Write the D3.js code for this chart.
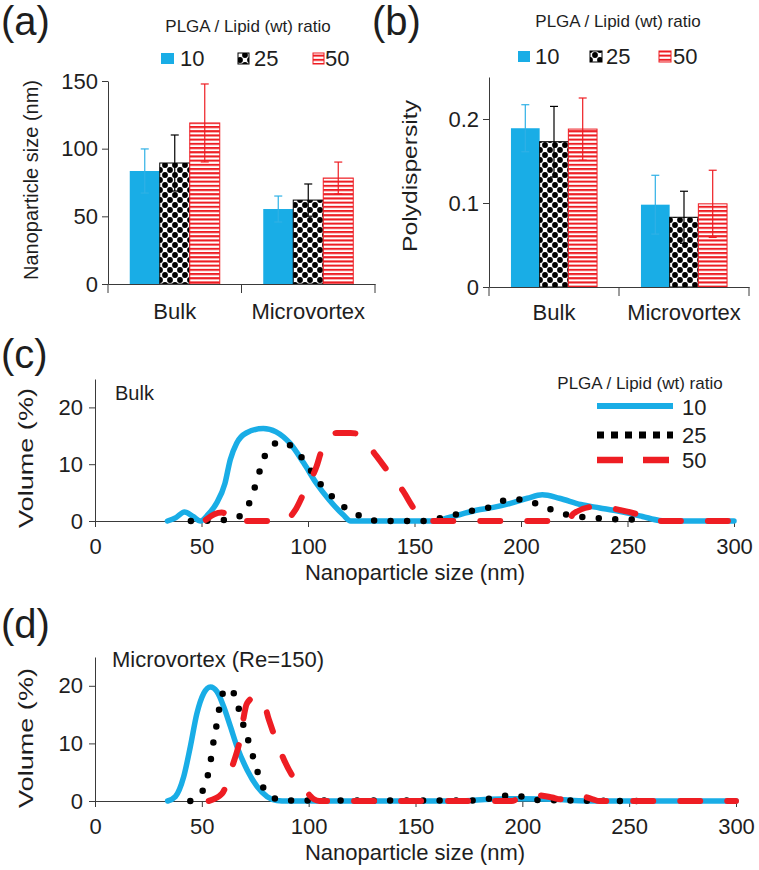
<!DOCTYPE html>
<html><head><meta charset="utf-8">
<script src="https://cdn.jsdelivr.net/npm/d3@7"></script>
<style>
body{margin:0;background:#fff;}
svg{display:block;font-family:"Liberation Sans",Arial,Helvetica,sans-serif;}
</style></head><body>
<svg id="chart" width="759" height="870"></svg>
<script>
// ---------- data ----------
const categories = ["Bulk", "Microvortex"];
const ratios = ["10", "25", "50"];
const legendTitle = "PLGA / Lipid (wt) ratio";

const sizeBulk = [83.5, 89.4, 119];
const sizeMicro = [55.4, 62, 78.3];
const sizeErrBulk = [16.3, 20.7, 28.8];
const sizeErrMicro = [9.6, 11.9, 11.8];
const sizeTicks = [0, 50, 100, 150];

const pdiBulk = [0.189, 0.173, 0.188];
const pdiMicro = [0.098, 0.083, 0.099];
const pdiErrBulk = [0.028, 0.042, 0.037];
const pdiErrMicro = [0.035, 0.031, 0.040];
const pdiTicks = [0, 0.1, 0.2];

const distTicksX = [0, 50, 100, 150, 200, 250, 300];
const distTicksY = [0, 10, 20];

// Bulk size distributions [size nm, volume %]
const bulk10 = [[34,0],[38,0.6],[42,1.6],[46,0.8],[49.5,0],[53,1.1],[57,3.1],[61,6.6],[63.5,10.8],[66.5,13.7],[71,15.5],[79,16.3],[85,15.7],[91.5,13.7],[98,10.2],[104,6.6],[110,3.7],[116.5,1.1],[120,0],[160,0],[165,0.5],[171,1.1],[179,1.9],[187,2.4],[195,3.1],[203,4.0],[210,4.6],[218,4.0],[228,2.9],[237,2.3],[246,1.7],[257,0.8],[265,0.1],[270,0],[300,0]];
const bulk25 = [[45,0],[62,0.2],[69,1.1],[73,3.7],[75.6,6.6],[78,9.6],[81,12.4],[87.6,14],[94,12.5],[99.4,10],[104,7.4],[109,5.2],[115,3],[122,1.4],[129,0.2],[135,0],[154,0],[162,0.5],[170,1.2],[178,1.9],[186,2.5],[194,3.8],[202,3.8],[209,2.7],[217.5,1.6],[225,0.8],[233.5,0.6],[241.6,0.3],[250,0.3],[258,0.1]];
const bulk50 = [[52,0.2],[56,1.2],[59.5,1.5],[62.5,0.8],[64,0],[88,0],[94,1.9],[98,4.9],[104,9.6],[106.5,12.5],[113.5,15.5],[120,15.5],[123.5,15.3],[132,11.5],[137,9],[144.6,5.3],[149.5,2.3],[154,0.3],[156,0],[222,0],[224.6,1.3],[234,2.5],[239,2.4],[245.7,2.0],[255,1.1],[260,0.2],[263,0],[300,0]];

// Microvortex (Re=150) size distributions
const micro10 = [[34,0],[37.6,0.75],[41.5,4.2],[44.6,9.4],[47.7,15.2],[50.9,18.7],[54,19.8],[57.1,19],[60.2,16.4],[63.4,12.9],[66.5,9.4],[71.2,5.4],[75.9,2.5],[80.6,0.75],[85,0.1],[90,0],[170,0],[185,0.3],[200,0.4],[215,0.3],[230,0],[300,0]];
const micro25 = [[44.6,0],[50.1,1.6],[52.7,4.3],[54.3,7.4],[55.5,10.4],[57.1,13.6],[58.4,16.6],[61.5,19.6],[65.7,18.3],[67.8,15.2],[70.4,12.1],[72.8,9.2],[75.1,6.3],[77.5,3.4],[82.2,0.75],[89,0.1],[180,0.1],[188.6,0.8],[196.7,1.0],[205,0.2],[255,0]];
const micro50 = [[53.2,0],[59.5,1.3],[64.2,6],[67.3,9.7],[71.2,17],[74.3,17.9],[78.3,17.6],[81.4,14.1],[85.3,10],[88.4,7.2],[94.7,3.1],[99.4,1.4],[102.5,0.3],[105,0],[195,0],[200,0.8],[207,1.0],[214,0.6],[218,0.3],[222,0.9],[228,0.8],[233,0.3],[236,0],[300,0]];

// ---------- styles ----------
const BLUE = "#19ADE6", RED = "#EE1D23", INK = "#1e1e1e", AXIS = "#3a3a3a";
const barFill = [BLUE, "url(#dots)", "url(#stripes)"];
const barStroke = ["none", "#000", RED];
const errColor = ["#2FB1E6", "#000", RED];

const svg = d3.select("#chart");
svg.append("rect").attr("width", 759).attr("height", 870).attr("fill", "#fff");

const defs = svg.append("defs");
const pd = defs.append("pattern").attr("id", "dots").attr("width", 10).attr("height", 10)
  .attr("patternUnits", "userSpaceOnUse");
pd.append("rect").attr("width", 10).attr("height", 10).attr("fill", "#fff");
[[0,0],[10,0],[0,10],[10,10],[5,5]].forEach(p =>
  pd.append("circle").attr("cx", p[0]).attr("cy", p[1]).attr("r", 2.9).attr("fill", "#000"));
const ps = defs.append("pattern").attr("id", "stripes").attr("width", 4).attr("height", 4.2)
  .attr("patternUnits", "userSpaceOnUse");
ps.append("rect").attr("width", 4).attr("height", 4.2).attr("fill", "#fff");
ps.append("rect").attr("width", 4).attr("height", 2.1).attr("fill", RED);

function styleAxisText(g, size) {
  g.selectAll("text").attr("font-size", size).attr("fill", INK)
   .attr("font-family", '"Liberation Sans",Arial,sans-serif');
  g.selectAll("line,path").attr("stroke", AXIS).attr("stroke-width", 1);
}

// ---------- bar panels ----------
function barPanel(o) {
  const g = svg.append("g");
  const x0 = d3.scaleBand().domain(categories).range(o.xr).paddingInner(0).paddingOuter(0);
  const x1 = d3.scaleBand().domain(ratios).range([0, x0.bandwidth()]).paddingInner(0).paddingOuter(o.pad);
  const y = d3.scaleLinear().domain([0, o.ymax]).range(o.yr);
  const vals = [o.bulk, o.micro], errs = [o.errB, o.errM];

  categories.forEach((c, ci) => {
    ratios.forEach((r, ri) => {
      g.append("rect")
        .attr("x", x0(c) + x1(r)).attr("width", x1.bandwidth())
        .attr("y", y(vals[ci][ri])).attr("height", y(0) - y(vals[ci][ri]))
        .attr("fill", barFill[ri]).attr("stroke", barStroke[ri]).attr("stroke-width", 1);
    });
  });
  categories.forEach((c, ci) => {
    ratios.forEach((r, ri) => {
      const cx = x0(c) + x1(r) + x1.bandwidth() / 2;
      const v = vals[ci][ri], e = errs[ci][ri];
      const eg = g.append("g").attr("stroke", errColor[ri]).attr("stroke-width", 1.2);
      eg.append("line").attr("x1", cx).attr("x2", cx).attr("y1", y(v - e)).attr("y2", y(v + e));
      [v - e, v + e].forEach(t => eg.append("line").attr("x1", cx - 4).attr("x2", cx + 4)
        .attr("y1", y(t)).attr("y2", y(t)));
    });
  });

  // y axis
  const ya = g.append("g").attr("transform", `translate(${o.xr[0]},0)`)
    .call(d3.axisLeft(y).tickValues(o.ticks).tickSize(6).tickSizeOuter(0).tickPadding(4).tickFormat(d => String(d)));
  styleAxisText(ya, 22);
  // x axis
  const xa = g.append("g").attr("transform", `translate(0,${o.yr[0]})`)
    .call(d3.axisBottom(x0).tickSize(0).tickSizeOuter(0));
  styleAxisText(xa, 22);
  xa.selectAll("text").attr("y", o.labelDy).attr("dy", 0);
  const bounds = categories.map(c => x0(c)).concat([o.xr[1]]);
  xa.selectAll("line.bnd").data(bounds).enter().append("line").attr("class", "bnd")
    .attr("x1", d => d).attr("x2", d => d).attr("y1", 0).attr("y2", 9)
    .attr("stroke", AXIS).attr("stroke-width", 1);

  // y title
  const yt = g.append("text").attr("transform", `translate(${o.ytX},${o.ytY}) rotate(-90)`)
    .attr("text-anchor", "middle").attr("font-size", o.ytSize).attr("fill", INK).text(o.ytitle);
  if (o.ytLen) yt.attr("textLength", o.ytLen).attr("lengthAdjust", "spacingAndGlyphs");

  // panel label
  g.append("text").attr("x", o.lab[0]).attr("y", o.lab[1]).attr("font-size", 40).attr("fill", INK).text(o.label);

  // legend
  g.append("text").attr("x", o.legTitle[0]).attr("y", o.legTitle[1]).attr("text-anchor", "middle")
    .attr("font-size", 17).attr("fill", INK).text(legendTitle);
  ratios.forEach((r, ri) => {
    g.append("rect").attr("x", o.legSq[ri]).attr("y", o.legY - 13).attr("width", o.sqW[ri]).attr("height", 11)
      .attr("fill", barFill[ri]).attr("stroke", barStroke[ri]).attr("stroke-width", 1);
    g.append("text").attr("x", o.legTx[ri]).attr("y", o.legY).attr("font-size", 22).attr("fill", INK).text(r);
  });
}

barPanel({
  xr: [108, 375], yr: [284, 81], ymax: 150, ticks: sizeTicks, pad: 0.725,
  bulk: sizeBulk, micro: sizeMicro, errB: sizeErrBulk, errM: sizeErrMicro,
  labelDy: 35, ytitle: "Nanoparticle size (nm)", ytX: 38, ytY: 180, ytSize: 21, ytLen: 200,
  label: "(a)", lab: [1, 35],
  legTitle: [248, 32], legSq: [161, 238, 313], sqW: [13, 11, 11], legTx: [180, 254, 325], legY: 66
});
barPanel({
  xr: [489, 749], yr: [287, 77], ymax: 0.25, ticks: pdiTicks, pad: 0.765,
  bulk: pdiBulk, micro: pdiMicro, errB: pdiErrBulk, errM: pdiErrMicro,
  labelDy: 33, ytitle: "Polydispersity", ytX: 417, ytY: 176, ytSize: 21, ytLen: 152,
  label: "(b)", lab: [372, 35],
  legTitle: [618, 27], legSq: [518, 590, 659], sqW: [12, 12, 12], legTx: [535, 606, 673], legY: 64
});

// ---------- distribution panels ----------
function distPanel(o) {
  const g = svg.append("g");
  const x = d3.scaleLinear().domain([0, 300]).range(o.xr);
  const y = d3.scaleLinear().domain([0, 25]).range(o.yr);
  const xa = g.append("g").attr("transform", `translate(0,${o.yr[0]})`)
    .call(d3.axisBottom(x).tickValues(distTicksX).tickSize(6).tickSizeOuter(0).tickFormat(d => String(d)));
  styleAxisText(xa, 22);
  xa.selectAll("text").attr("y", 33).attr("dy", 0);
  const ya = g.append("g").attr("transform", `translate(${o.xr[0]},0)`)
    .call(d3.axisLeft(y).tickValues(distTicksY).tickSize(6).tickSizeOuter(0).tickPadding(6).tickFormat(d => String(d)));
  styleAxisText(ya, 22);

  const line = d3.line().x(d => x(d[0])).y(d => y(d[1])).curve(d3.curveMonotoneX);
  g.append("path").datum(o.s10).attr("d", line).attr("fill", "none").attr("stroke", BLUE)
    .attr("stroke-width", 5.5).attr("stroke-linecap", "round").attr("stroke-linejoin", "round");
  g.append("path").datum(o.s25).attr("d", line).attr("fill", "none").attr("stroke", "#000")
    .attr("stroke-width", 6.5).attr("stroke-linecap", "round").attr("stroke-dasharray", "0 16.5");
  g.append("path").datum(o.s50).attr("d", line).attr("fill", "none").attr("stroke", RED)
    .attr("stroke-width", 6).attr("stroke-linecap", "round").attr("stroke-dasharray", "20 27");

  g.append("text").attr("transform", `translate(33,${o.ytY}) rotate(-90)`).attr("text-anchor", "middle")
    .attr("font-size", 21).attr("textLength", 140).attr("lengthAdjust", "spacingAndGlyphs")
    .attr("fill", INK).text("Volume (%)");
  g.append("text").attr("x", 415).attr("y", o.yr[0] + 59).attr("text-anchor", "middle")
    .attr("font-size", 22).attr("fill", INK).text("Nanoparticle size (nm)");
  g.append("text").attr("x", o.lab[0]).attr("y", o.lab[1]).attr("font-size", 40).attr("fill", INK).text(o.label);
  g.append("text").attr("x", o.sub[0]).attr("y", o.sub[1]).attr("font-size", o.subSize).attr("fill", INK).text(o.subtitle);
  return g;
}

const gc = distPanel({ xr: [95, 734], yr: [521, 379], s10: bulk10, s25: bulk25, s50: bulk50,
  ytY: 458, label: "(c)", lab: [1, 368], subtitle: "Bulk", sub: [115, 400], subSize: 20 });
distPanel({ xr: [95, 736], yr: [801, 657], s10: micro10, s25: micro25, s50: micro50,
  ytY: 738, label: "(d)", lab: [1, 638], subtitle: "Microvortex (Re=150)", sub: [112, 667], subSize: 22 });

// legend for (c)
gc.append("text").attr("x", 640).attr("y", 389).attr("text-anchor", "middle").attr("font-size", 17)
  .attr("fill", INK).text(legendTitle);
const legStyles = [
  { stroke: BLUE, w: 6, dash: null },
  { stroke: "#000", w: 7, dash: "7 7" },
  { stroke: RED, w: 6.5, dash: "26 20" }
];
const legLineY = [406, 435, 460], legTextY = [415, 443, 468];
ratios.forEach((r, i) => {
  const l = gc.append("line").attr("x1", 597).attr("x2", 673).attr("y1", legLineY[i]).attr("y2", legLineY[i])
    .attr("stroke", legStyles[i].stroke).attr("stroke-width", legStyles[i].w);
  if (legStyles[i].dash) l.attr("stroke-dasharray", legStyles[i].dash);
  gc.append("text").attr("x", 682).attr("y", legTextY[i]).attr("font-size", 22).attr("fill", INK).text(r);
});
</script>
</body></html>
